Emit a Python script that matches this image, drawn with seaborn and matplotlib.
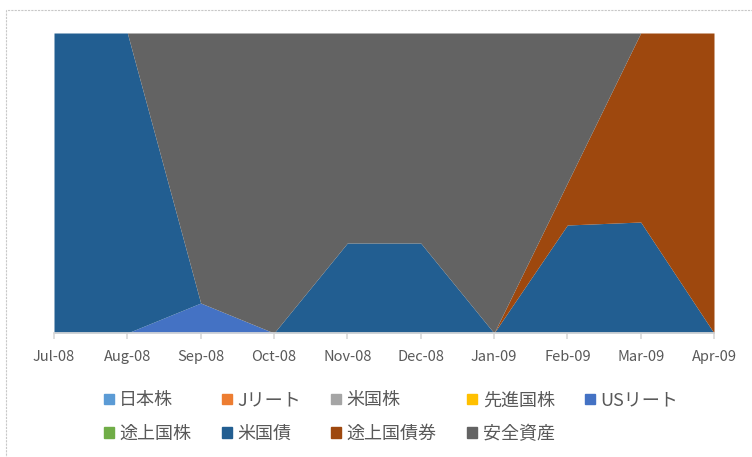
import numpy as np
import pandas as pd
import matplotlib
matplotlib.use("Agg")
import matplotlib.pyplot as plt
import matplotlib.patches as mpatches
import seaborn as sns

# ── Data ─────────────────────────────────────────────────────────────────────
months = ["Jul-08", "Aug-08", "Sep-08", "Oct-08", "Nov-08",
          "Dec-08", "Jan-09", "Feb-09", "Mar-09", "Apr-09"]
series_names = ["日本株", "Jリート", "米国株", "先進国株", "USリート",
                "途上国株", "米国債", "途上国債券", "安全資産"]

jp_stock   = [0, 0, 0, 0, 0, 0, 0, 0, 0, 0]
j_reit     = [0, 0, 0, 0, 0, 0, 0, 0, 0, 0]
us_stock   = [0, 0, 0, 0, 0, 0, 0, 0, 0, 0]
dev_stock  = [0, 0, 0, 0, 0, 0, 0, 0, 0, 0]
us_reit    = [0, 0, 0.10, 0, 0, 0, 0, 0, 0, 0]
em_stock   = [0, 0, 0, 0, 0, 0, 0, 0, 0, 0]
us_bond    = [1.0, 1.0, 0, 0, 0.30, 0.30, 0, 0.36, 0.37, 0]
em_bond    = [0, 0, 0, 0, 0, 0, 0, 0.14, 0.63, 1.0]
safe_asset = [0, 0, 0.90, 1.0, 0.70, 0.70, 1.0, 0.50, 0, 0]

colors = ["#5B9BD5", "#ED7D31", "#A5A5A5", "#FFC000", "#4472C4",
          "#70AD47", "#225E91", "#9E480E", "#636363"]

df = pd.DataFrame(dict(zip(series_names,
                           [jp_stock, j_reit, us_stock, dev_stock, us_reit,
                            em_stock, us_bond, em_bond, safe_asset])),
                  index=months)

# ── Plot ─────────────────────────────────────────────────────────────────────
sns.set_theme(style="white")
plt.rcParams["font.family"] = ["Noto Sans CJK JP", "DejaVu Sans"]

fig = plt.figure(figsize=(7.52, 4.57), dpi=100)
ax = fig.add_axes([54 / 752, 1 - 333 / 457, 660 / 752, 300 / 457])

x = np.arange(len(months))
ax.stackplot(x, [df[c].values for c in series_names], colors=colors,
             labels=series_names, linewidth=0)

ax.set_xlim(0, len(months) - 1)
ax.set_ylim(0, 1)
ax.set_yticks([])
ax.set_xticks(x)
ax.set_xticklabels(months, fontsize=10.5, color="#595959")
ax.tick_params(axis="x", length=4, color="#D9D9D9", pad=8, bottom=True)
for side in ["top", "left", "right"]:
    ax.spines[side].set_visible(False)
ax.spines["bottom"].set_color("#D9D9D9")

# legend is filled column by column, so reorder to read row by row
handles = [mpatches.Patch(color=c, label=n) for c, n in zip(colors, series_names)]
order = [0, 5, 1, 6, 2, 7, 3, 8, 4]
fig.legend(handles=[handles[i] for i in order], loc="center",
           bbox_to_anchor=(0.52, 1 - 417 / 457),
           ncol=5, frameon=False, fontsize=13, handlelength=0.55,
           handleheight=0.55, handletextpad=0.3, columnspacing=1.7,
           labelcolor="#595959", labelspacing=0.85)

# chart area border
fig.patches.append(mpatches.Rectangle((6 / 752, -0.1), 1.0, 1 - 10 / 457 + 0.1,
                                      transform=fig.transFigure, fill=False,
                                      edgecolor="#C8C8C8", linestyle=(0, (2, 1)),
                                      linewidth=0.8))

fig.savefig("out.png", dpi=100)
